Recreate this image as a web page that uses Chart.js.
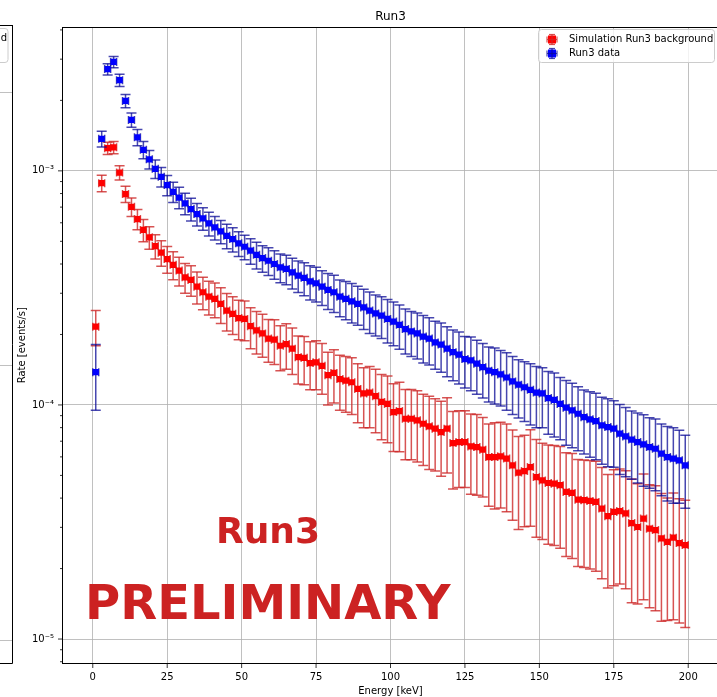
<!DOCTYPE html>
<html>
<head>
<meta charset="utf-8">
<script src="https://cdn.jsdelivr.net/npm/chart.js@4.4.1/dist/chart.umd.min.js"></script>
<style>
html,body{margin:0;padding:0;overflow:hidden;background:#fff;width:717px;height:697px}
#wrap{position:relative;width:730px;height:697px}
canvas{display:block}
</style>
</head>
<body>
<div id="wrap"><canvas id="c" width="730" height="697" style="width:730px;height:697px"></canvas></div>
<script>
// ---- data ----
const energy = [1,3,5,7,9,11,13,15,17,19,21,23,25,27,29,31,33,35,37,39,
  41,43,45,47,49,51,53,55,57,59,61,63,65,67,69,71,73,75,77,79,
  81,83,85,87,89,91,93,95,97,99,101,103,105,107,109,111,113,115,117,119,
  121,123,125,127,129,131,133,135,137,139,141,143,145,147,149,151,153,155,157,159,
  161,163,165,167,169,171,173,175,177,179,181,183,185,187,189,191,193,195,197,199];
const energyHalfBin = 1;

const simRate = [2.16e-4,8.86e-4,1.25e-3,1.26e-3,9.83e-4,7.96e-4,7.02e-4,6.22e-4,5.59e-4,5.20e-4,
  4.77e-4,4.47e-4,4.20e-4,3.97e-4,3.75e-4,3.51e-4,3.42e-4,3.20e-4,3.03e-4,2.90e-4,
  2.84e-4,2.70e-4,2.53e-4,2.45e-4,2.35e-4,2.33e-4,2.17e-4,2.08e-4,2.02e-4,1.92e-4,
  1.90e-4,1.79e-4,1.82e-4,1.74e-4,1.60e-4,1.59e-4,1.51e-4,1.52e-4,1.47e-4,1.34e-4,
  1.37e-4,1.29e-4,1.27e-4,1.25e-4,1.17e-4,1.12e-4,1.13e-4,1.09e-4,1.03e-4,1.01e-4,
  9.32e-5,9.41e-5,8.73e-5,8.73e-5,8.60e-5,8.31e-5,8.10e-5,7.92e-5,7.66e-5,7.92e-5,
  6.87e-5,6.94e-5,6.94e-5,6.65e-5,6.61e-5,6.44e-5,5.99e-5,5.99e-5,6.03e-5,5.90e-5,
  5.52e-5,5.14e-5,5.22e-5,5.43e-5,4.92e-5,4.76e-5,4.64e-5,4.61e-5,4.54e-5,4.25e-5,
  4.21e-5,3.94e-5,3.92e-5,3.89e-5,3.85e-5,3.61e-5,3.35e-5,3.49e-5,3.52e-5,3.44e-5,
  3.13e-5,3.01e-5,3.27e-5,2.96e-5,2.92e-5,2.69e-5,2.60e-5,2.71e-5,2.57e-5,2.52e-5];
const simErr = [3.7e-5,7.1e-5,7.5e-5,7.6e-5,6.9e-5,6.4e-5,6.3e-5,6.2e-5,6.1e-5,5.7e-5,
  5.7e-5,5.6e-5,5.5e-5,5.4e-5,5.3e-5,5.1e-5,5.1e-5,5.0e-5,4.8e-5,4.8e-5,
  4.8e-5,4.7e-5,4.6e-5,4.5e-5,4.5e-5,4.5e-5,4.3e-5,4.3e-5,4.2e-5,4.0e-5,
  4.1e-5,3.9e-5,4.0e-5,3.9e-5,3.7e-5,3.7e-5,3.5e-5,3.6e-5,3.6e-5,3.4e-5,
  3.5e-5,3.4e-5,3.4e-5,3.4e-5,3.3e-5,3.2e-5,3.3e-5,3.3e-5,3.2e-5,3.2e-5,
  3.0e-5,3.1e-5,2.9e-5,2.9e-5,2.9e-5,2.8e-5,2.8e-5,2.7e-5,2.7e-5,2.8e-5,
  2.5e-5,2.5e-5,2.5e-5,2.5e-5,2.5e-5,2.4e-5,2.3e-5,2.4e-5,2.4e-5,2.4e-5,
  2.3e-5,2.2e-5,2.2e-5,2.4e-5,2.2e-5,2.1e-5,2.1e-5,2.1e-5,2.1e-5,2.0e-5,
  2.0e-5,1.9e-5,1.9e-5,1.9e-5,1.9e-5,1.8e-5,1.7e-5,1.8e-5,1.8e-5,1.8e-5,
  1.7e-5,1.6e-5,1.8e-5,1.6e-5,1.6e-5,1.5e-5,1.4e-5,1.5e-5,1.4e-5,1.4e-5];

const dataRate = [1.38e-4,1.37e-3,2.72e-3,2.92e-3,2.44e-3,1.99e-3,1.65e-3,1.39e-3,1.23e-3,1.12e-3,
  1.02e-3,9.43e-4,8.69e-4,8.14e-4,7.69e-4,7.26e-4,6.87e-4,6.54e-4,6.26e-4,5.96e-4,
  5.73e-4,5.51e-4,5.28e-4,5.11e-4,4.90e-4,4.74e-4,4.56e-4,4.38e-4,4.24e-4,4.13e-4,
  4.00e-4,3.87e-4,3.81e-4,3.68e-4,3.57e-4,3.49e-4,3.37e-4,3.31e-4,3.20e-4,3.10e-4,
  3.03e-4,2.90e-4,2.84e-4,2.77e-4,2.70e-4,2.61e-4,2.53e-4,2.46e-4,2.41e-4,2.33e-4,
  2.27e-4,2.20e-4,2.11e-4,2.06e-4,2.02e-4,1.96e-4,1.92e-4,1.85e-4,1.81e-4,1.74e-4,
  1.68e-4,1.64e-4,1.57e-4,1.55e-4,1.50e-4,1.45e-4,1.40e-4,1.38e-4,1.35e-4,1.31e-4,
  1.26e-4,1.22e-4,1.19e-4,1.16e-4,1.13e-4,1.12e-4,1.07e-4,1.05e-4,1.01e-4,9.73e-5,
  9.47e-5,9.17e-5,8.87e-5,8.68e-5,8.53e-5,8.18e-5,8.04e-5,7.92e-5,7.54e-5,7.34e-5,
  7.11e-5,6.94e-5,6.79e-5,6.61e-5,6.50e-5,6.19e-5,5.99e-5,5.90e-5,5.80e-5,5.52e-5];
const dataErr = [4.3e-5,1.05e-4,1.50e-4,1.61e-4,1.46e-4,1.29e-4,1.16e-4,1.11e-4,1.05e-4,1.01e-4,
  9.2e-5,9.0e-5,8.7e-5,8.1e-5,8.1e-5,7.6e-5,7.6e-5,7.2e-5,6.9e-5,6.9e-5,
  6.6e-5,6.3e-5,6.3e-5,6.1e-5,5.9e-5,5.7e-5,5.7e-5,5.7e-5,5.5e-5,5.6e-5,
  5.6e-5,5.4e-5,5.5e-5,5.5e-5,5.5e-5,5.6e-5,5.6e-5,5.6e-5,5.4e-5,5.4e-5,
  5.5e-5,5.2e-5,5.3e-5,5.3e-5,5.1e-5,5.1e-5,5.1e-5,4.9e-5,4.9e-5,4.9e-5,
  4.8e-5,4.7e-5,4.6e-5,4.5e-5,4.5e-5,4.5e-5,4.4e-5,4.3e-5,4.3e-5,4.2e-5,
  4.1e-5,4.1e-5,3.9e-5,4.0e-5,3.9e-5,3.8e-5,3.7e-5,3.7e-5,3.6e-5,3.6e-5,
  3.5e-5,3.4e-5,3.4e-5,3.4e-5,3.3e-5,3.2e-5,3.2e-5,3.2e-5,3.0e-5,3.0e-5,
  2.9e-5,2.8e-5,2.7e-5,2.7e-5,2.7e-5,2.6e-5,2.6e-5,2.5e-5,2.5e-5,2.4e-5,
  2.3e-5,2.3e-5,2.3e-5,2.2e-5,2.2e-5,2.1e-5,2.1e-5,2.1e-5,2.0e-5,1.9e-5];

const xTicks = [0,25,50,75,100,125,150,175,200];
const yTicks = [1e-5,1e-4,1e-3];
const yTickLabels = ['10\u207B\u2075','10\u207B\u2074','10\u207B\u00B3'];
const yMinorTicks = [8e-6,9e-6,2e-5,3e-5,4e-5,5e-5,6e-5,7e-5,8e-5,9e-5,
  2e-4,3e-4,4e-4,5e-4,6e-4,7e-4,8e-4,9e-4,2e-3,3e-3,4e-3];
const seriesLabels = ['Simulation Run3 background','Run3 data'];

// ---- drawing ----
Chart.defaults.font.family = "'DejaVu Sans', sans-serif";
Chart.defaults.font.size = 10;
Chart.defaults.color = '#000';

const FONT = "'DejaVu Sans', sans-serif";

function line(ctx, x1, y1, x2, y2){ ctx.beginPath(); ctx.moveTo(x1,y1); ctx.lineTo(x2,y2); ctx.stroke(); }

const errorBars = {
  id: 'errorBars',
  beforeDatasetDraw(chart, args) {
    const ds = chart.data.datasets[args.index];
    const xs = chart.scales.x, ys = chart.scales.y, ctx = chart.ctx, a = chart.chartArea;
    ctx.save();
    ctx.beginPath(); ctx.rect(a.left, a.top, a.right - a.left, a.bottom - a.top); ctx.clip();
    ctx.strokeStyle = ds.barColor; ctx.lineWidth = 1.5;
    ds.data.forEach((p, i) => {
      const e = ds.errs[i];
      const px = xs.getPixelForValue(p.x), py = ys.getPixelForValue(p.y);
      const yT = ys.getPixelForValue(p.y + e), yB = ys.getPixelForValue(p.y - e);
      line(ctx, px, yT, px, yB);
      line(ctx, px - 5, yT, px + 5, yT);
      line(ctx, px - 5, yB, px + 5, yB);
      const xl = xs.getPixelForValue(p.x - energyHalfBin), xr = xs.getPixelForValue(p.x + energyHalfBin);
      line(ctx, xl, py, xr, py);
      line(ctx, xl, py - 4, xl, py + 4);
      line(ctx, xr, py - 4, xr, py + 4);
    });
    ctx.restore();
  }
};

const decor = {
  id: 'decor',
  afterDraw(chart) {
    const ctx = chart.ctx, a = chart.chartArea, xs = chart.scales.x, ys = chart.scales.y;
    ctx.save();
    // tick marks
    ctx.strokeStyle = '#000'; ctx.lineWidth = 0.8;
    xTicks.forEach(v => { const x = xs.getPixelForValue(v); line(ctx, x, a.bottom, x, a.bottom + 5); });
    yTicks.forEach(v => { const y = ys.getPixelForValue(v); line(ctx, a.left - 5, y, a.left, y); });
    yMinorTicks.forEach(v => { const y = ys.getPixelForValue(v); line(ctx, a.left - 3, y, a.left, y); });
    // frame
    ctx.strokeStyle = '#000'; ctx.lineWidth = 1;
    ctx.strokeRect(Math.round(a.left) - 0.5, Math.round(a.top) + 0.5, Math.round(a.right - a.left), Math.round(a.bottom - a.top));

    // neighbouring panel fragment at the left edge
    ctx.strokeStyle = '#b0b0b0'; ctx.lineWidth = 0.8;
    [92, 365, 640].forEach(y => line(ctx, 0, y + 0.5, 12, y + 0.5));
    ctx.strokeStyle = '#000'; ctx.lineWidth = 1;
    line(ctx, 12.5, 25, 12.5, 663.5);
    line(ctx, 0, 25.5, 12.5, 25.5);
    line(ctx, 0, 663.5, 12.5, 663.5);
    ctx.fillStyle = 'rgba(255,255,255,0.8)'; ctx.strokeStyle = '#cccccc';
    ctx.beginPath(); ctx.roundRect(-60, 28.5, 68, 34, 3); ctx.fill(); ctx.stroke();
    ctx.fillStyle = '#000'; ctx.font = '10px ' + FONT; ctx.textAlign = 'right'; ctx.textBaseline = 'middle';
    ctx.fillText('background', 7, 38);

    // legend
    const lx = 538.5, ly = 29.5, lw = 176, lh = 33;
    ctx.fillStyle = 'rgba(255,255,255,0.8)'; ctx.strokeStyle = '#cccccc'; ctx.lineWidth = 1;
    ctx.beginPath(); ctx.roundRect(lx, ly, lw, lh, 3); ctx.fill(); ctx.stroke();
    chart.data.datasets.forEach((ds, i) => {
      const cy = 39.5 + i * 14, cx = 552;
      ctx.fillStyle = ds.backgroundColor;
      ctx.fillRect(cx - 4, cy - 4, 8, 8);
      ctx.strokeStyle = ds.barColor; ctx.lineWidth = 1.2;
      line(ctx, cx, cy - 5, cx, cy + 5);
      line(ctx, cx - 3, cy - 5, cx + 3, cy - 5);
      line(ctx, cx - 3, cy + 5, cx + 3, cy + 5);
      line(ctx, cx - 5, cy, cx + 5, cy);
      line(ctx, cx - 5, cy - 3, cx - 5, cy + 3);
      line(ctx, cx + 5, cy - 3, cx + 5, cy + 3);
      ctx.fillStyle = '#000'; ctx.font = '10px ' + FONT; ctx.textAlign = 'left'; ctx.textBaseline = 'middle';
      ctx.fillText(ds.label, 569, cy);
    });

    // watermark texts
    ctx.fillStyle = '#cc2222'; ctx.textAlign = 'left'; ctx.textBaseline = 'alphabetic';
    ctx.font = 'bold 36px ' + FONT;
    ctx.fillText('Run3', 216, 543);
    ctx.font = 'bold 48px ' + FONT;
    ctx.fillText('PRELIMINARY', 85, 619);
    ctx.restore();
  }
};

new Chart(document.getElementById('c'), {
  type: 'scatter',
  data: {
    datasets: [
      { label: seriesLabels[0], data: energy.map((e, i) => ({x: e, y: simRate[i]})), errs: simErr,
        backgroundColor: '#ff0000', borderColor: '#ff0000', barColor: 'rgba(205,40,40,0.8)',
        pointStyle: 'rect', pointRadius: 4.4, pointBorderWidth: 0, pointHoverRadius: 4.4, order: 1 },
      { label: seriesLabels[1], data: energy.map((e, i) => ({x: e, y: dataRate[i]})), errs: dataErr,
        backgroundColor: '#0000ff', borderColor: '#0000ff', barColor: 'rgba(10,10,150,0.75)',
        pointStyle: 'rect', pointRadius: 4.4, pointBorderWidth: 0, pointHoverRadius: 4.4, order: 0 }
    ]
  },
  options: {
    responsive: false, animation: false, devicePixelRatio: 1,
    layout: { padding: { left: 0, right: 12, top: 0, bottom: 0 } },
    plugins: {
      legend: { display: false },
      tooltip: { enabled: false },
      title: { display: true, text: 'Run3', fullSize: false, color: '#000',
               font: { size: 12, weight: 'normal', lineHeight: 1.2 }, padding: { top: 10, bottom: 3 } }
    },
    scales: {
      x: {
        type: 'linear', min: -10, max: 210,
        afterBuildTicks: s => { s.ticks = xTicks.map(v => ({ value: v })); },
        afterFit: s => { s.height = 34; },
        grid: { color: '#b0b0b0', lineWidth: 0.8, drawTicks: false },
        border: { display: false },
        ticks: { padding: 8, color: '#000', font: { size: 10 }, maxRotation: 0, autoSkip: false },
        title: { display: true, text: 'Energy [keV]', color: '#000', font: { size: 10, lineHeight: 1.2 }, padding: { top: 0, bottom: 0 } }
      },
      y: {
        type: 'logarithmic', min: 7.9e-6, max: 4.1e-3,
        afterBuildTicks: s => { s.ticks = yTicks.map(v => ({ value: v })); },
        afterFit: s => { s.width = 63; },
        grid: { color: '#b0b0b0', lineWidth: 0.8, drawTicks: false },
        border: { display: false },
        ticks: { padding: 9, color: '#000', font: { size: 10 }, autoSkip: false,
                 callback: (v, i) => yTickLabels[i] },
        title: { display: true, text: 'Rate [events/s]', color: '#000', font: { size: 10, lineHeight: 1.2 }, padding: { top: 16, bottom: 0 } }
      }
    }
  },
  plugins: [errorBars, decor]
});
</script>
</body>
</html>
